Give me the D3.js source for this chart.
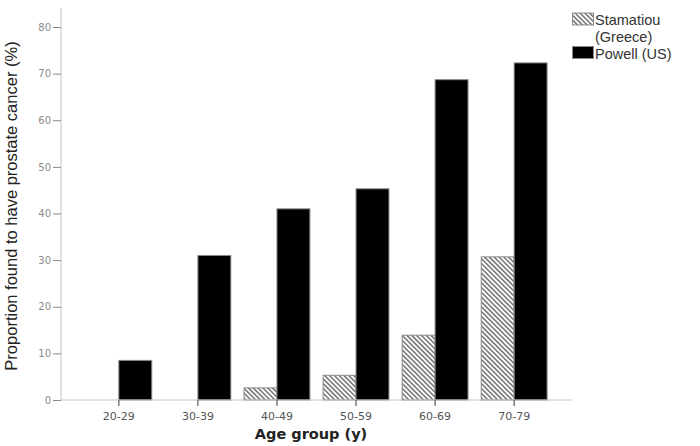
<!DOCTYPE html>
<html lang="en">
<head>
  <meta charset="UTF-8">
  <title>Prostate cancer by age group</title>
  <script src="https://cdn.jsdelivr.net/npm/d3@7"></script>
  <style>
    body { margin: 0; background: #fff; }
    svg { display: block; }
  </style>
</head>
<body>
<div id="app"></div>
<script>
  // values
  const ageGroups = ['20-29', '30-39', '40-49', '50-59', '60-69', '70-79'];
  const seriesNames = ['Stamatiou (Greece)', 'Powell (US)'];
  const stamatiou = [0, 0, 2.6, 5.3, 13.9, 30.7];
  const powell = [8.5, 31, 41, 45.3, 68.7, 72.3];
  const yTicks = [0, 10, 20, 30, 40, 50, 60, 70, 80];

  const w = 700;
  const h = 446;
  const axisX = 61;
  const axisRight = 572;
  const baseY = 400;

  const svg = d3.select('#app')
    .append('svg')
    .attr('width', w)
    .attr('height', h);

  // hatch for the Greek series
  const defs = svg.append('defs');
  defs.append('pattern')
    .attr('id', 'hatch')
    .attr('patternUnits', 'userSpaceOnUse')
    .attr('width', 3.4)
    .attr('height', 3.4)
    .attr('patternTransform', 'rotate(-45)')
    .call(p => {
      p.append('rect').attr('width', 3.4).attr('height', 3.4).attr('fill', '#fff');
      p.append('line')
        .attr('x1', 0.8).attr('y1', 0).attr('x2', 0.8).attr('y2', 3.4)
        .attr('stroke', '#3a3a3a').attr('stroke-width', 1.1);
    });

  const x = d3.scaleBand()
    .domain(ageGroups)
    .range([axisX, axisRight])
    .paddingInner(0.167)
    .paddingOuter(0.315);

  const xs = d3.scaleBand()
    .domain(seriesNames)
    .range([0, x.bandwidth()]);

  const y = d3.scaleLinear()
    .domain([0, 80])
    .range([baseY, 27]);

  const fills = ['url(#hatch)', '#000'];
  const rows = ageGroups.map((g, i) => ({ group: g, values: [stamatiou[i], powell[i]] }));

  // bars
  svg.append('g')
    .selectAll('g')
    .data(rows)
    .enter()
    .append('g')
    .attr('transform', d => `translate(${x(d.group)},0)`)
    .selectAll('rect')
    .data(d => d.values.map((v, j) => ({ name: seriesNames[j], v, j })))
    .enter()
    .filter(d => d.v > 0)
    .append('rect')
    .attr('x', d => xs(d.name))
    .attr('y', d => y(d.v))
    .attr('width', xs.bandwidth())
    .attr('height', d => y(0) - y(d.v))
    .attr('fill', d => fills[d.j])
    .attr('stroke', '#8a8a8a')
    .attr('stroke-width', 1);

  // y axis
  const yAxis = d3.axisLeft(y)
    .tickValues(yTicks)
    .tickSize(8)
    .tickPadding(2)
    .tickSizeOuter(0);
  const gy = svg.append('g')
    .attr('transform', `translate(${axisX},0)`)
    .call(yAxis);
  gy.select('.domain').attr('d', `M0,8V${baseY}`).attr('stroke', '#c4c4c4');
  gy.selectAll('.tick line').attr('stroke', '#888');
  gy.selectAll('.tick text')
    .attr('fill', '#8a8a8a')
    .attr('font-family', 'DejaVu Sans')
    .attr('font-size', 10);

  // x axis
  const xAxis = d3.axisBottom(x)
    .tickSize(6)
    .tickPadding(6)
    .tickSizeOuter(0);
  const gx = svg.append('g')
    .attr('transform', `translate(0,${baseY})`)
    .call(xAxis);
  gx.select('.domain').attr('d', `M${axisX},0H${axisRight}`).attr('stroke', '#c4c4c4');
  gx.selectAll('.tick line').attr('stroke', '#666').attr('stroke-width', 1.3);
  gx.selectAll('.tick text')
    .attr('fill', '#555')
    .attr('font-family', 'DejaVu Sans')
    .attr('font-size', 11);

  // axis titles
  svg.append('text')
    .attr('transform', `translate(17,${(baseY + 8) / 2 + 2}) rotate(-90)`)
    .attr('text-anchor', 'middle')
    .attr('font-family', 'Liberation Sans, Arial, sans-serif')
    .attr('font-size', 16.5)
    .attr('fill', '#222')
    .text('Proportion found to have prostate cancer (%)');

  svg.append('text')
    .attr('x', 311)
    .attr('y', 439)
    .attr('text-anchor', 'middle')
    .attr('font-family', 'DejaVu Sans')
    .attr('font-weight', 'bold')
    .attr('font-size', 14.5)
    .attr('fill', '#222')
    .text('Age group (y)');

  // legend
  const legend = svg.append('g')
    .attr('transform', 'translate(572,11)');
  const legendRows = [
    { lines: ['Stamatiou', '(Greece)'], fill: fills[0], dy: 0 },
    { lines: ['Powell (US)'], fill: fills[1], dy: 33.5 }
  ];
  legendRows.forEach(r => {
    const g = legend.append('g').attr('transform', `translate(0,${r.dy})`);
    g.append('rect')
      .attr('x', 0.5).attr('y', 2)
      .attr('width', 21).attr('height', 12)
      .attr('fill', r.fill)
      .attr('stroke', '#8a8a8a');
    r.lines.forEach((line, k) => {
      g.append('text')
        .attr('x', 23)
        .attr('y', 14 + k * 16.5)
        .attr('font-family', 'Liberation Sans, Arial, sans-serif')
        .attr('font-size', 14.5)
        .attr('fill', '#333')
        .text(line);
    });
  });
</script>
</body>
</html>
